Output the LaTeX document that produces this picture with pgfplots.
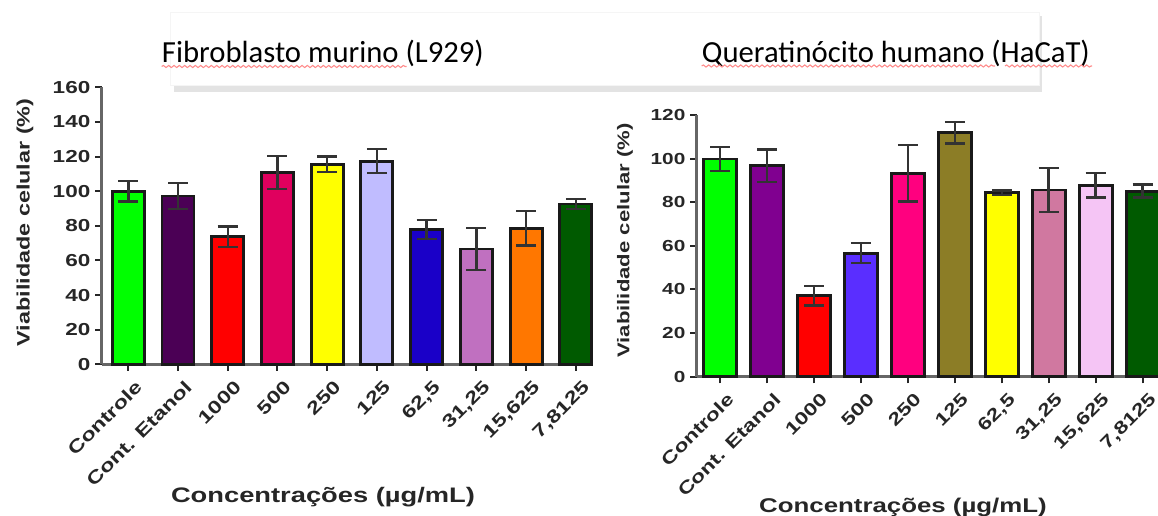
\documentclass[border=0pt]{standalone}
\usepackage{pgfplots}
\pgfplotsset{compat=1.18}
\usepackage{fontspec}
\usetikzlibrary{decorations.pathmorphing}
\setmainfont{Liberation Sans}
\newfontfamily\gp[FakeStretch=1.3]{Liberation Sans}
\newfontfamily\cali{Carlito}

% left panel colours
\definecolor{La}{HTML}{00FF00}
\definecolor{Lb}{HTML}{4B0055}
\definecolor{Lc}{HTML}{FF0000}
\definecolor{Ld}{HTML}{E0005E}
\definecolor{Le}{HTML}{FFFF00}
\definecolor{Lf}{HTML}{C0BCFF}
\definecolor{Lg}{HTML}{1A00C8}
\definecolor{Lh}{HTML}{C070C0}
\definecolor{Li}{HTML}{FF7700}
\definecolor{Lj}{HTML}{005A00}
% right panel colours
\definecolor{Ra}{HTML}{00FF00}
\definecolor{Rb}{HTML}{800090}
\definecolor{Rc}{HTML}{FF0000}
\definecolor{Rd}{HTML}{5A2EFF}
\definecolor{Re}{HTML}{FF007F}
\definecolor{Rf}{HTML}{8C7D26}
\definecolor{Rg}{HTML}{FFFF00}
\definecolor{Rh}{HTML}{D078A0}
\definecolor{Ri}{HTML}{F5C5F5}
\definecolor{Rj}{HTML}{005A00}

\newcommand{\mybar}[4]{\addplot[fill=#1] coordinates {(#2,#3) +- (0,#4)};}

\pgfplotsset{prism/.style={
  scale only axis, anchor=south west,
  axis x line*=bottom, axis y line*=left,
  axis line style={line width=2.2pt, color=black!60},
  ymin=0,
  xtick={0,...,9},
  xticklabels={Controle, Cont. Etanol, 1000, 500, 250, 125, {62,5}, {31,25}, {15,625}, {7,8125}},
  tick align=outside,
  major tick length=5pt,
  tick style={line width=1.5pt, black!85},
  /pgf/number format/assume math mode=true,
  ybar,
  every axis plot/.append style={bar shift=0pt, draw=black!90, line width=2.2pt,
    error bars/y dir=both, error bars/y explicit,
    error bars/error mark=-,
    error bars/error bar style={line width=1.8pt, black!80},
    error bars/error mark options={rotate=90, line width=1.8pt, mark size=7.5pt, black!80}},
  x tick label style={rotate=45, anchor=north east, text=black!85, xshift=2pt, yshift=-4pt},
  y tick label style={text=black!85},
  clip=false,
}}

\begin{document}
\begin{tikzpicture}
\useasboundingbox (0,0) rectangle (868.5pt,386.25pt);
\begin{scope}[x=0.75pt,y=0.75pt]
% title box
\fill[gray!22] (174,423) rectangle (1042,499);
\filldraw[fill=white, draw=gray!8] (170.7,430) rectangle (1039,503);
\node[anchor=base west, inner sep=0] at (161.7,452) {\cali\fontsize{23}{27}\selectfont Fibroblasto murino (L929)};
\node[anchor=base west, inner sep=0] at (701.7,452) {\cali\fontsize{23}{27}\selectfont Queratinócito humano (HaCaT)};
\draw[red!45, line width=0.8pt, decorate, decoration={snake, amplitude=0.8pt, segment length=4pt}] (161.7,448.5) -- (406.7,448.5);
\draw[red!45, line width=0.8pt, decorate, decoration={snake, amplitude=0.8pt, segment length=4pt}] (701.7,449) -- (995,449);
\draw[red!45, line width=0.8pt, decorate, decoration={snake, amplitude=0.8pt, segment length=4pt}] (1005,449) -- (1092,449);
% axis titles
\node[rotate=90, text=black!85] at (25,292.5) {\gp\bfseries\fontsize{13.5}{16}\selectfont Viabilidade celular (\%)};
\node[rotate=90, text=black!85] at (625,274.5) {\gp\bfseries\fontsize{12.75}{15}\selectfont Viabilidade celular (\%)};
\node[text=black!85] at (323,18) {\gp\bfseries\fontsize{15.75}{18}\selectfont Concentrações (µg/mL)};
\node[text=black!85] at (903,8) {\gp\bfseries\fontsize{14.9}{17}\selectfont Concentrações (µg/mL)};
\end{scope}

% left panel
\begin{axis}[prism, at={(76.275pt,113.025pt)}, width=367.5pt, height=207.75pt,
  xmin=-0.535, xmax=9.32, ymax=160, ytick={0,20,...,160}, bar width=0.644,
  x tick label style={font=\gp\bfseries\fontsize{13.5}{15}\selectfont},
  y tick label style={font=\gp\bfseries\fontsize{13}{15}\selectfont}]
\mybar{La}{0}{100}{6}
\mybar{Lb}{1}{97.2}{7.5}
\mybar{Lc}{2}{73.7}{6}
\mybar{Ld}{3}{110.7}{9.5}
\mybar{Le}{4}{115.5}{4.5}
\mybar{Lf}{5}{117.4}{7}
\mybar{Lg}{6}{78}{5.5}
\mybar{Lh}{7}{66.6}{12}
\mybar{Li}{8}{78.6}{10}
\mybar{Lj}{9}{92.6}{3}
\end{axis}

% right panel
\begin{axis}[prism, at={(522.525pt,103.725pt)}, width=346pt, height=196.3pt,
  xmin=-0.5, xmax=9.33, ymax=120, ytick={0,20,...,120}, bar width=0.70,
  x tick label style={font=\gp\bfseries\fontsize{13.2}{15}\selectfont},
  y tick label style={font=\gp\bfseries\fontsize{12}{14}\selectfont}]
\mybar{Ra}{0}{99.8}{5.5}
\mybar{Rb}{1}{96.7}{7.5}
\mybar{Rc}{2}{37.1}{4.5}
\mybar{Rd}{3}{56.6}{4.6}
\mybar{Re}{4}{93.3}{13}
\mybar{Rf}{5}{111.9}{5}
\mybar{Rg}{6}{84.4}{1}
\mybar{Rh}{7}{85.6}{10}
\mybar{Ri}{8}{87.7}{5.6}
\mybar{Rj}{9}{85.1}{3}
\end{axis}
\end{tikzpicture}
\end{document}
